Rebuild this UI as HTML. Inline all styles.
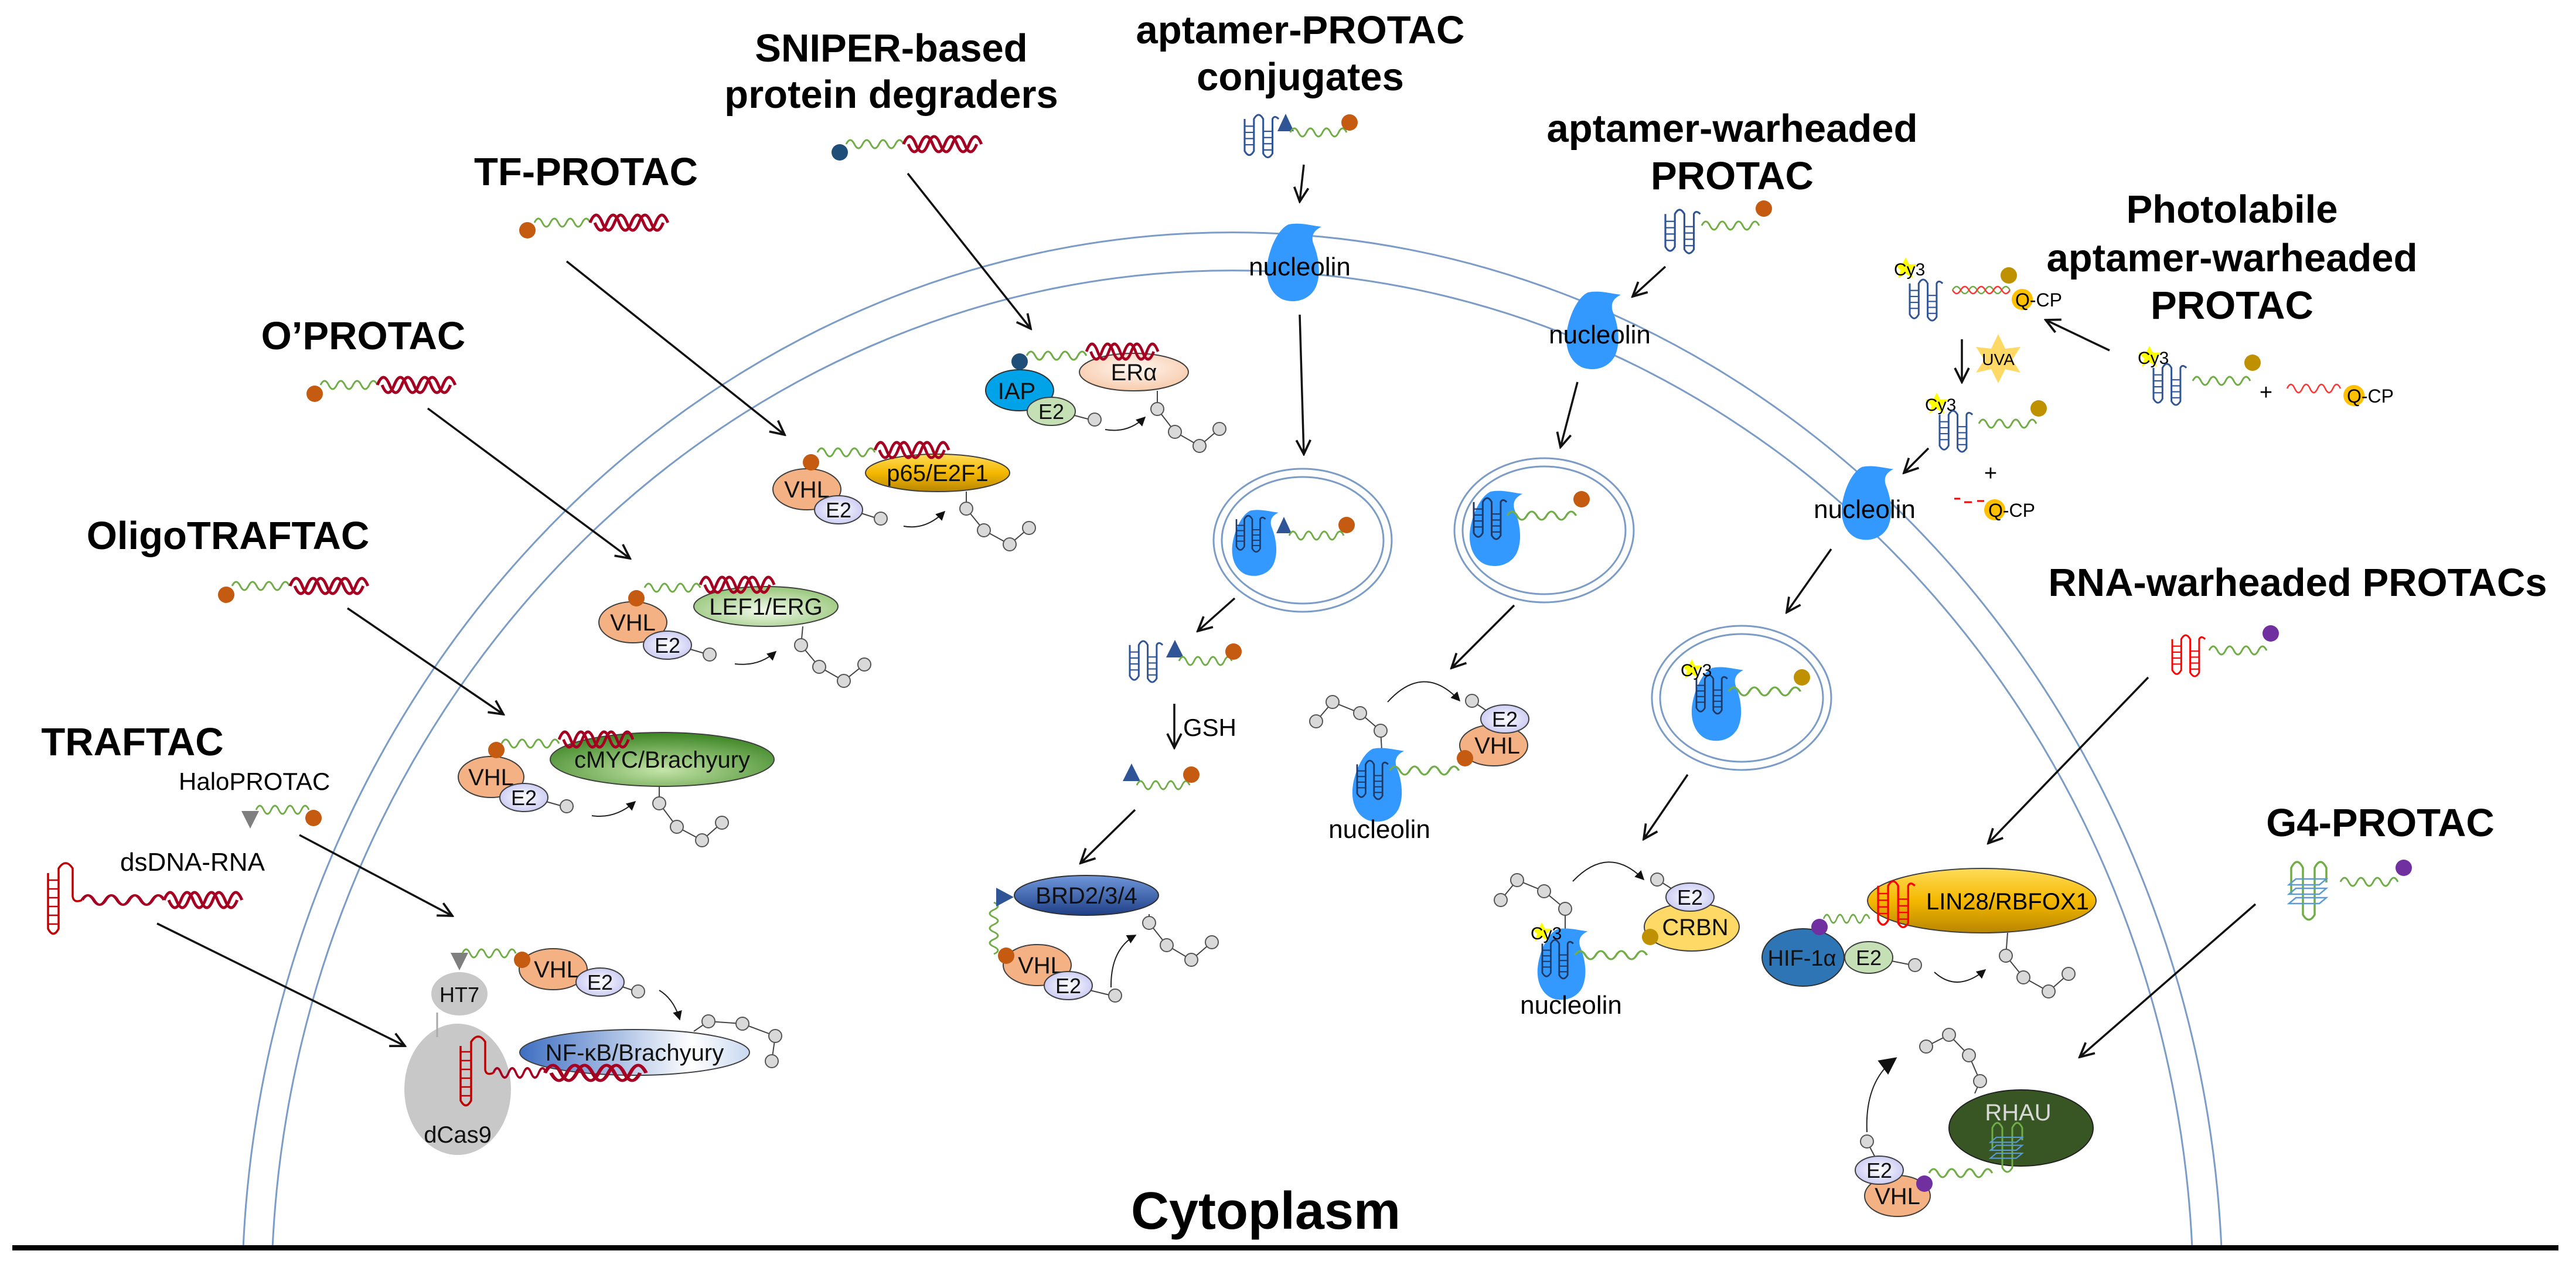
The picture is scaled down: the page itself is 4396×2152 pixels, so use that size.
<!DOCTYPE html>
<html><head><meta charset="utf-8"><style>
html,body{margin:0;padding:0;background:#fff;width:4396px;height:2152px;overflow:hidden}
svg{display:block;overflow:hidden}
text{font-family:"Liberation Sans",Arial,sans-serif}
.t{font-weight:bold;font-size:67px;text-anchor:middle;fill:#000}
.l{font-size:40px;text-anchor:middle;fill:#111}
.ub{fill:#d9d9d9;stroke:#555;stroke-width:2}
.ch{stroke:#444;stroke-width:2;fill:none}
.vhl{fill:#f4b183;stroke:#404040;stroke-width:2}
.e2{fill:url(#gE2);stroke:#404040;stroke-width:2}
.e2g{fill:#c5e0b4;stroke:#404040;stroke-width:2}
.ar{stroke:#111;stroke-width:3.5;fill:none;marker-end:url(#ar)}
.sa{stroke:#222;stroke-width:2;fill:none;marker-end:url(#sa)}
.ves{fill:none;stroke:#7a9cc6;stroke-width:3}
</style></head><body>
<svg width="4396" height="2152" viewBox="0 0 4396 2152" xmlns="http://www.w3.org/2000/svg">
<defs>
<marker id="ar" viewBox="0 0 20 20" refX="18" refY="10" markerWidth="30" markerHeight="30" markerUnits="userSpaceOnUse" orient="auto"><path d="M2,2 L18,10 L2,18" stroke="#111" stroke-width="2.5" fill="none"/></marker>
<marker id="sa" viewBox="0 0 10 10" refX="9" refY="5" markerWidth="16" markerHeight="16" markerUnits="userSpaceOnUse" orient="auto"><path d="M0,0 L10,5 L0,10 Z" fill="#111"/></marker>
<marker id="ba" viewBox="0 0 10 10" refX="9" refY="5" markerWidth="30" markerHeight="30" markerUnits="userSpaceOnUse" orient="auto"><path d="M0,0 L10,5 L0,10 Z" fill="#111"/></marker>
<linearGradient id="gGold" x1="0" y1="0" x2="0" y2="1"><stop offset="0" stop-color="#ffdc5a"/><stop offset="0.5" stop-color="#f5b800"/><stop offset="1" stop-color="#b88600"/></linearGradient>
<radialGradient id="gGreen" cx="0.5" cy="0.7" r="0.7"><stop offset="0" stop-color="#c4e4a8"/><stop offset="1" stop-color="#3a8422"/></radialGradient>
<radialGradient id="gLef" cx="0.5" cy="0.6" r="0.7"><stop offset="0" stop-color="#f4faee"/><stop offset="1" stop-color="#86bd63"/></radialGradient>
<linearGradient id="gNF" x1="0" y1="0" x2="1" y2="0"><stop offset="0" stop-color="#3e6ec2"/><stop offset="0.75" stop-color="#ffffff"/><stop offset="1" stop-color="#c8d8f0"/></linearGradient>
<linearGradient id="gBRD" x1="0" y1="0" x2="0" y2="1"><stop offset="0" stop-color="#6f97dc"/><stop offset="1" stop-color="#1f3f85"/></linearGradient>
<radialGradient id="gER" cx="0.5" cy="0.4" r="0.7"><stop offset="0" stop-color="#fff8f2"/><stop offset="1" stop-color="#f6c3a0"/></radialGradient>
<radialGradient id="gE2" cx="0.5" cy="0.5" r="0.6"><stop offset="0" stop-color="#ffffff"/><stop offset="1" stop-color="#c3c3f2"/></radialGradient>
<path id="wv" d="M0,0 q7,-14 14,0 t14,0 t14,0 t14,0 t14,0 t14,0 t14,0" fill="none" stroke="#70ad47" stroke-width="3"/>
<path id="rw" d="M0,0 q7,-16 14,0 t14,0 t14,0 t14,0 t14,0 t14,0 t14,0" fill="none" stroke="#a50021" stroke-width="4"/>
<g id="hx" fill="none" stroke="#a50021" stroke-width="5"><path d="M0,0 q10.4,-26 20.8,0 t20.8,0 t20.8,0 t20.8,0 t20.8,0 t20.8,0"/><path d="M8,0 q10.4,26 20.8,0 t20.8,0 t20.8,0 t20.8,0 t20.8,0 t20.8,0"/></g>
<g id="apt" fill="none" stroke-width="3.5"><path d="M0,8 L0,70 Q9,86 18,70 L18,8 Q27,-8 36,8 L36,75 Q45,90 54,75 L54,8 Q58,0 66,8"/><path d="M0,22H18M0,34H18M0,46H18M0,58H18M36,32H54M36,44H54M36,56H54M36,68H54" stroke-width="2.5"/></g>
<path id="nuc" d="M40,4 C60,0 78,6 96,8 C84,14 78,22 82,36 C92,60 96,90 86,112 C76,132 52,140 30,132 C8,122 0,96 4,70 C8,44 22,12 40,4 Z" fill="#3399ff"/>
<g id="g4"><path d="M0,60 L0,15 Q10,-5 20,15 L20,95 Q30,112 40,95 L40,15 Q50,-5 60,15 L60,40" fill="none" stroke="#70ad47" stroke-width="3.5"/><path d="M-4,44 L48,44 L60,34 L8,34 Z M-4,60 L48,60 L60,50 L8,50 Z M-4,76 L48,76 L60,66 L8,66 Z" fill="none" stroke="#5b9bd5" stroke-width="2.5"/></g>
<polygon id="star" points="0,-20 6,-8 19,-8 9,2 13,16 0,8 -13,16 -9,2 -19,-8 -6,-8" fill="#ffff00"/>
</defs>
<!-- membrane -->
<path d="M415,2130 A1690,1822 0 0 1 3791,2130" fill="none" stroke="#7a9cc6" stroke-width="3"/>
<path d="M465,2130 A1640,1755 0 0 1 3741,2130" fill="none" stroke="#7a9cc6" stroke-width="3"/>
<rect x="21" y="2125" width="4345" height="9" fill="#000"/>

<!-- titles -->
<text class="t" x="1521" y="105">SNIPER-based</text>
<text class="t" x="1521" y="184">protein degraders</text>
<text class="t" x="2219" y="74">aptamer-PROTAC</text>
<text class="t" x="2219" y="154">conjugates</text>
<text class="t" x="2956" y="242">aptamer-warheaded</text>
<text class="t" x="2956" y="323">PROTAC</text>
<text class="t" x="3809" y="380">Photolabile</text>
<text class="t" x="3809" y="463">aptamer-warheaded</text>
<text class="t" x="3809" y="544">PROTAC</text>
<text class="t" x="3921" y="1017">RNA-warheaded PROTACs</text>
<text class="t" x="1000" y="316">TF-PROTAC</text>
<text class="t" x="620" y="596">O’PROTAC</text>
<text class="t" x="389" y="937">OligoTRAFTAC</text>
<text class="t" x="226" y="1289">TRAFTAC</text>
<text class="t" x="4062" y="1427">G4-PROTAC</text>
<text class="t" x="2160" y="2097" style="font-size:90px">Cytoplasm</text>

<!-- free molecules left -->
<circle cx="1433" cy="260" r="14" fill="#1f4e79"/><use href="#wv" transform="translate(1444,246)"/><use href="#hx" transform="translate(1542,246)"/>
<circle cx="900" cy="393" r="14" fill="#c55a11"/><use href="#wv" transform="translate(912,380) scale(0.97,1)"/><use href="#hx" transform="translate(1007,380)"/>
<circle cx="537" cy="672" r="14" fill="#c55a11"/><use href="#wv" transform="translate(547,657) scale(0.99,1)"/><use href="#hx" transform="translate(644,657)"/>
<circle cx="386" cy="1015" r="14" fill="#c55a11"/><use href="#wv" transform="translate(396,1000)"/><use href="#hx" transform="translate(495,1000)"/>

<!-- arrows -->
<line class="ar" x1="1549" y1="296" x2="1759" y2="561"/>
<line class="ar" x1="967" y1="446" x2="1339" y2="742"/>
<line class="ar" x1="730" y1="697" x2="1075" y2="953"/>
<line class="ar" x1="593" y1="1038" x2="859" y2="1219"/>
<line class="ar" x1="511" y1="1425" x2="772" y2="1563"/>
<line class="ar" x1="268" y1="1576" x2="691" y2="1785"/>
<line class="ar" x1="2225" y1="281" x2="2218" y2="344"/>
<line class="ar" x1="2218" y1="537" x2="2225" y2="775"/>
<line class="ar" x1="2107" y1="1021" x2="2044" y2="1077"/>
<line class="ar" x1="2004" y1="1201" x2="2004" y2="1276"/>
<line class="ar" x1="1937" y1="1382" x2="1844" y2="1473"/>
<line class="ar" x1="2842" y1="455" x2="2786" y2="506"/>
<line class="ar" x1="2692" y1="652" x2="2663" y2="763"/>
<line class="ar" x1="2584" y1="1033" x2="2477" y2="1140"/>
<line class="ar" x1="3600" y1="598" x2="3491" y2="546"/>
<line class="ar" x1="3348" y1="579" x2="3348" y2="652"/>
<line class="ar" x1="3291" y1="765" x2="3249" y2="807"/>
<line class="ar" x1="3125" y1="937" x2="3049" y2="1045"/>
<line class="ar" x1="2880" y1="1322" x2="2805" y2="1432"/>
<line class="ar" x1="3666" y1="1156" x2="3393" y2="1439"/>
<line class="ar" x1="3849" y1="1543" x2="3549" y2="1804"/>

<!-- IAP complex -->
<use href="#wv" transform="translate(1752,607) scale(1.04,1)"/>
<ellipse cx="1935" cy="635" rx="93" ry="32" fill="url(#gER)" stroke="#404040" stroke-width="2"/>
<text class="l" x="1935" y="649">ERα</text>
<use href="#hx" transform="translate(1854,600) scale(0.92,1)"/>
<ellipse cx="1740" cy="666" rx="58" ry="35" fill="#00a2e8" stroke="#303030" stroke-width="2"/>
<text class="l" x="1735" y="681">IAP</text>
<circle cx="1740" cy="617" r="14" fill="#1f4e79"/>
<line class="ch" x1="1830" y1="708" x2="1860" y2="716"/>
<ellipse class="e2g" cx="1794" cy="702" rx="41" ry="24"/><text class="l" x="1794" y="715" style="font-size:36px">E2</text>
<circle class="ub" cx="1868" cy="716" r="11"/>
<path class="sa" d="M1886,733 Q1925,740 1954,712"/>
<path class="ch" d="M1975,667 L1975,698 L2005,737 L2047,761 L2081,732"/>
<circle class="ub" cx="1975" cy="698" r="11"/><circle class="ub" cx="2005" cy="737" r="11"/><circle class="ub" cx="2047" cy="761" r="11"/><circle class="ub" cx="2081" cy="732" r="11"/>

<!-- TF complex -->
<use href="#wv" transform="translate(1395,772)"/>
<ellipse cx="1600" cy="807" rx="123" ry="32" fill="url(#gGold)" stroke="#404040" stroke-width="2"/>
<text class="l" x="1600" y="821">p65/E2F1</text>
<use href="#hx" transform="translate(1493,768) scale(0.95,1)"/>
<ellipse class="vhl" cx="1377" cy="835" rx="58" ry="35"/><text class="l" x="1377" y="849">VHL</text>
<circle cx="1384" cy="789" r="14" fill="#c55a11"/>
<line class="ch" x1="1470" y1="876" x2="1495" y2="884"/>
<ellipse class="e2" cx="1431" cy="870" rx="41" ry="24"/><text class="l" x="1431" y="883" style="font-size:36px">E2</text>
<circle class="ub" cx="1503" cy="885" r="11"/>
<path class="sa" d="M1542,898 Q1580,905 1612,873"/>
<path class="ch" d="M1649,839 L1649,868 L1679,905 L1723,929 L1756,901"/>
<circle class="ub" cx="1649" cy="868" r="11"/><circle class="ub" cx="1679" cy="905" r="11"/><circle class="ub" cx="1723" cy="929" r="11"/><circle class="ub" cx="1756" cy="901" r="11"/>

<!-- LEF1 complex -->
<use href="#wv" transform="translate(1100,1003) scale(0.97,1)"/>
<ellipse cx="1307" cy="1035" rx="123" ry="34" fill="url(#gLef)" stroke="#404040" stroke-width="2"/>
<text class="l" x="1307" y="1049">LEF1/ERG</text>
<use href="#hx" transform="translate(1195,998) scale(0.95,1)"/>
<ellipse class="vhl" cx="1080" cy="1062" rx="58" ry="35"/><text class="l" x="1080" y="1076">VHL</text>
<circle cx="1086" cy="1021" r="14" fill="#c55a11"/>
<line class="ch" x1="1178" y1="1108" x2="1202" y2="1115"/>
<ellipse class="e2" cx="1139" cy="1101" rx="41" ry="24"/><text class="l" x="1139" y="1114" style="font-size:36px">E2</text>
<circle class="ub" cx="1211" cy="1117" r="11"/>
<path class="sa" d="M1254,1133 Q1295,1138 1324,1112"/>
<path class="ch" d="M1370,1069 L1367,1101 L1398,1138 L1440,1162 L1475,1134"/>
<circle class="ub" cx="1367" cy="1101" r="11"/><circle class="ub" cx="1398" cy="1138" r="11"/><circle class="ub" cx="1440" cy="1162" r="11"/><circle class="ub" cx="1475" cy="1134" r="11"/>

<!-- cMYC complex -->
<use href="#wv" transform="translate(856,1269)"/>
<ellipse cx="1130" cy="1296" rx="191" ry="46" fill="url(#gGreen)" stroke="#404040" stroke-width="2"/>
<text class="l" x="1130" y="1310">cMYC/Brachyury</text>
<use href="#hx" transform="translate(954,1262) scale(0.95,1)"/>
<ellipse class="vhl" cx="838" cy="1326" rx="56" ry="35"/><text class="l" x="838" y="1340">VHL</text>
<circle cx="847" cy="1280" r="14" fill="#c55a11"/>
<line class="ch" x1="932" y1="1368" x2="957" y2="1375"/>
<ellipse class="e2" cx="894" cy="1361" rx="41" ry="24"/><text class="l" x="894" y="1374" style="font-size:36px">E2</text>
<circle class="ub" cx="967" cy="1376" r="11"/>
<path class="sa" d="M1010,1392 Q1050,1398 1084,1368"/>
<path class="ch" d="M1125,1342 L1125,1371 L1155,1411 L1198,1434 L1232,1404"/>
<circle class="ub" cx="1125" cy="1371" r="11"/><circle class="ub" cx="1155" cy="1411" r="11"/><circle class="ub" cx="1198" cy="1434" r="11"/><circle class="ub" cx="1232" cy="1404" r="11"/>

<!-- TRAFTAC -->
<text x="305" y="1348" style="font-size:42px">HaloPROTAC</text>
<polygon points="412,1384 442,1384 427,1414" fill="#7f7f7f"/>
<use href="#wv" transform="translate(437,1382) scale(0.92,1)"/>
<circle cx="535" cy="1396" r="14" fill="#c55a11"/>
<text x="205" y="1486" style="font-size:44px">dsDNA-RNA</text>
<g fill="none" stroke="#c00000" stroke-width="3.5">
<path d="M82,1490 L82,1585 Q91,1602 100,1585 L100,1482 Q112,1464 124,1482 L124,1530 Q126,1542 140,1536"/>
<path d="M82,1502H100M82,1517H100M82,1532H100M82,1547H100M82,1562H100M82,1577H100" stroke-width="2.5"/>
</g>
<use href="#rw" transform="translate(140,1536) scale(1.43,1)"/>
<use href="#hx" transform="translate(280,1536)"/>

<ellipse cx="781" cy="1859" rx="91" ry="112" fill="#c8c8c8"/>
<line x1="746" y1="1728" x2="746" y2="1770" stroke="#aaa" stroke-width="3"/>
<ellipse cx="784" cy="1696" rx="48" ry="37" fill="#c8c8c8"/>
<text class="l" x="784" y="1710" style="font-size:36px">HT7</text>
<polygon points="769,1626 799,1626 784,1656" fill="#7f7f7f"/>
<text class="l" x="781" y="1950">dCas9</text>
<use href="#wv" transform="translate(789,1627) scale(0.93,1)"/>
<ellipse cx="1083" cy="1796" rx="196" ry="39" fill="url(#gNF)" stroke="#404040" stroke-width="2"/>
<text class="l" x="1083" y="1810">NF-κB/Brachyury</text>
<g fill="none" stroke="#c00000" stroke-width="3.5">
<path d="M786,1785 L786,1878 Q795,1895 804,1878 L804,1778 Q816,1760 828,1778 L828,1826 Q830,1836 842,1831"/>
<path d="M786,1795H804M786,1810H804M786,1825H804M786,1840H804M786,1855H804M786,1870H804" stroke-width="2.5"/>
</g>
<use href="#rw" transform="translate(842,1831) scale(0.92,1)"/>
<use href="#hx" transform="translate(930,1831) scale(1.3,1)"/>
<ellipse class="vhl" cx="944" cy="1654" rx="58" ry="35"/><text class="l" x="950" y="1668">VHL</text>
<circle cx="891" cy="1638" r="14" fill="#c55a11"/>
<line class="ch" x1="1062" y1="1684" x2="1080" y2="1690"/>
<ellipse class="e2" cx="1024" cy="1676" rx="41" ry="24"/><text class="l" x="1024" y="1689" style="font-size:36px">E2</text>
<circle class="ub" cx="1089" cy="1692" r="11"/>
<path class="sa" d="M1125,1690 Q1150,1705 1160,1740"/>
<path class="ch" d="M1184,1760 L1209,1743 L1267,1747 L1323,1768 L1317,1811"/>
<circle class="ub" cx="1209" cy="1743" r="11"/><circle class="ub" cx="1267" cy="1747" r="11"/><circle class="ub" cx="1323" cy="1768" r="11"/><circle class="ub" cx="1317" cy="1811" r="11"/>

<!-- aptamer-PROTAC column -->
<use href="#apt" stroke="#2f5597" transform="translate(2124,196) scale(0.88)"/>
<polygon points="2180,224 2208,224 2194,194" fill="#2f5597"/>
<use href="#wv" transform="translate(2202,226) scale(0.98,1)"/>
<circle cx="2303" cy="209" r="14" fill="#c55a11"/>
<use href="#nuc" transform="translate(2159,379)"/>
<text x="2218" y="470" style="font-size:44px;text-anchor:middle">nucleolin</text>
<ellipse class="ves" cx="2223" cy="922" rx="152" ry="122"/><ellipse class="ves" cx="2223" cy="922" rx="138" ry="108"/>
<use href="#nuc" transform="translate(2100,868) scale(0.85)"/>
<use href="#apt" stroke="#1f3864" transform="translate(2110,880) scale(0.75)"/>
<polygon points="2178,910 2204,910 2191,882" fill="#2f5597"/>
<use href="#wv" transform="translate(2200,914) scale(0.95,1)"/>
<circle cx="2298" cy="896" r="14" fill="#c55a11"/>
<use href="#apt" stroke="#2f5597" transform="translate(1928,1094) scale(0.85)"/>
<polygon points="1990,1122 2020,1122 2005,1092" fill="#2f5597"/>
<use href="#wv" transform="translate(2012,1128) scale(0.92,1)"/>
<circle cx="2105" cy="1112" r="14" fill="#c55a11"/>
<text x="2019" y="1256" style="font-size:42px">GSH</text>
<polygon points="1916,1333 1946,1333 1931,1303" fill="#2f5597"/>
<use href="#wv" transform="translate(1940,1340) scale(0.92,1)"/>
<circle cx="2033" cy="1322" r="14" fill="#c55a11"/>

<!-- BRD complex -->
<use href="#wv" transform="translate(1696,1540) rotate(90) scale(0.9,1)"/>
<ellipse cx="1854" cy="1528" rx="123" ry="34" fill="url(#gBRD)" stroke="#303030" stroke-width="2"/>
<text class="l" x="1854" y="1542">BRD2/3/4</text>
<polygon points="1700,1515 1700,1547 1730,1531" fill="#2f5597"/>
<ellipse class="vhl" cx="1770" cy="1647" rx="58" ry="35"/><text class="l" x="1776" y="1661">VHL</text>
<circle cx="1717" cy="1631" r="14" fill="#c55a11"/>
<line class="ch" x1="1860" y1="1690" x2="1893" y2="1698"/>
<ellipse class="e2" cx="1823" cy="1682" rx="41" ry="24"/><text class="l" x="1823" y="1695" style="font-size:36px">E2</text>
<circle class="ub" cx="1903" cy="1699" r="11"/>
<path class="sa" d="M1896,1685 Q1895,1620 1938,1596"/>
<path class="ch" d="M1961,1560 L1961,1575 L1991,1613 L2033,1638 L2068,1608"/>
<circle class="ub" cx="1961" cy="1575" r="11"/><circle class="ub" cx="1991" cy="1613" r="11"/><circle class="ub" cx="2033" cy="1638" r="11"/><circle class="ub" cx="2068" cy="1608" r="11"/>

<!-- aptamer-warheaded column -->
<use href="#apt" stroke="#2f5597" transform="translate(2842,358) scale(0.9)"/>
<use href="#wv" transform="translate(2904,385) scale(1,1)"/>
<circle cx="3010" cy="356" r="14" fill="#c55a11"/>
<use href="#nuc" transform="translate(2670,495)"/>
<text x="2730" y="586" style="font-size:44px;text-anchor:middle">nucleolin</text>
<ellipse class="ves" cx="2635" cy="905" rx="153" ry="123"/><ellipse class="ves" cx="2635" cy="905" rx="139" ry="109"/>
<use href="#nuc" transform="translate(2505,835) scale(0.97)"/>
<use href="#apt" stroke="#1f3864" transform="translate(2515,850) scale(0.85)"/>
<use href="#wv" transform="translate(2572,880) scale(1.2,1)"/>
<circle cx="2699" cy="852" r="14" fill="#c55a11"/>
<!-- complex 2 -->
<path class="ch" d="M2358,1280 L2356,1247 L2321,1217 L2274,1198 L2246,1231"/>
<circle class="ub" cx="2356" cy="1247" r="11"/><circle class="ub" cx="2321" cy="1217" r="11"/><circle class="ub" cx="2274" cy="1198" r="11"/><circle class="ub" cx="2246" cy="1231" r="11"/>
<use href="#nuc" transform="translate(2305,1274) scale(0.95)"/>
<use href="#apt" stroke="#1f3864" transform="translate(2316,1298) scale(0.8)"/>
<use href="#wv" transform="translate(2372,1315) scale(1.2,1)"/>
<text x="2354" y="1430" style="font-size:44px;text-anchor:middle">nucleolin</text>
<path class="sa" d="M2368,1198 Q2430,1130 2491,1196"/>
<line class="ch" x1="2512" y1="1196" x2="2540" y2="1215"/>
<circle class="ub" cx="2512" cy="1196" r="11"/>
<ellipse class="vhl" cx="2549" cy="1272" rx="58" ry="35"/><text class="l" x="2555" y="1286">VHL</text>
<ellipse class="e2" cx="2568" cy="1227" rx="41" ry="24"/><text class="l" x="2568" y="1240" style="font-size:36px">E2</text>
<circle cx="2500" cy="1294" r="14" fill="#c55a11"/>

<!-- photolabile -->
<use href="#star" transform="translate(3252,459)"/>
<text x="3232" y="470" style="font-size:30px">Cy3</text>
<use href="#apt" stroke="#2f5597" transform="translate(3259,477) scale(0.85)"/>
<path d="M3332,495 q7,-12 14,0 t14,0 t14,0 t14,0 t14,0 t14,0 t14,0" fill="none" stroke="#70ad47" stroke-width="2.5"/>
<path d="M3332,495 q7,12 14,0 t14,0 t14,0 t14,0 t14,0 t14,0 t14,0" fill="none" stroke="#ff3333" stroke-width="2.5"/>
<circle cx="3428" cy="470" r="14" fill="#bf9000"/>
<circle cx="3451" cy="511" r="18" fill="#ffc000"/>
<text x="3439" y="523" style="font-size:32px">Q-CP</text>
<polygon points="3410,570 3422,595 3448,592 3434,614 3448,636 3422,630 3410,654 3398,630 3372,636 3386,614 3372,592 3398,595" fill="#ffd966"/>
<text x="3410" y="623" style="font-size:28px;text-anchor:middle">UVA</text>
<use href="#star" transform="translate(3668,610)"/>
<text x="3648" y="621" style="font-size:30px">Cy3</text>
<use href="#apt" stroke="#2f5597" transform="translate(3675,621) scale(0.85)"/>
<use href="#wv" transform="translate(3742,650)"/>
<circle cx="3844" cy="619" r="14" fill="#bf9000"/>
<text x="3867" y="682" style="font-size:38px;text-anchor:middle">+</text>
<path d="M3903,663 q6.5,-14 13,0 t13,0 t13,0 t13,0 t13,0 t13,0 t13,0" fill="none" stroke="#ff3333" stroke-width="2.5"/>
<circle cx="4017" cy="675" r="18" fill="#ffc000"/>
<text x="4005" y="687" style="font-size:32px">Q-CP</text>
<use href="#star" transform="translate(3305,690)"/>
<text x="3285" y="701" style="font-size:30px">Cy3</text>
<use href="#apt" stroke="#2f5597" transform="translate(3310,701) scale(0.85)"/>
<use href="#wv" transform="translate(3377,723)"/>
<circle cx="3479" cy="697" r="14" fill="#bf9000"/>
<text x="3397" y="820" style="font-size:38px;text-anchor:middle">+</text>
<path d="M3335,851h10M3352,857h13M3374,855h12" stroke="#ff0000" stroke-width="3"/>
<circle cx="3404" cy="870" r="18" fill="#ffc000"/>
<text x="3393" y="882" style="font-size:32px">Q-CP</text>
<use href="#nuc" transform="translate(3140,793) scale(0.95)"/>
<text x="3182" y="884" style="font-size:44px;text-anchor:middle">nucleolin</text>
<ellipse class="ves" cx="2972" cy="1191" rx="153" ry="123"/><ellipse class="ves" cx="2972" cy="1191" rx="139" ry="109"/>
<use href="#nuc" transform="translate(2884,1136) scale(0.95)"/>
<use href="#apt" stroke="#1f3864" transform="translate(2895,1152) scale(0.8)"/>
<use href="#star" transform="translate(2887,1143) scale(0.9)"/>
<text x="2868" y="1154" style="font-size:30px">Cy3</text>
<use href="#wv" transform="translate(2950,1180) scale(1.25,1)"/>
<circle cx="3075" cy="1156" r="14" fill="#bf9000"/>
<!-- CRBN complex -->
<path class="ch" d="M2671,1588 L2671,1551 L2635,1521 L2589,1502 L2561,1536"/>
<circle class="ub" cx="2671" cy="1551" r="11"/><circle class="ub" cx="2635" cy="1521" r="11"/><circle class="ub" cx="2589" cy="1502" r="11"/><circle class="ub" cx="2561" cy="1536" r="11"/>
<use href="#nuc" transform="translate(2621,1582) scale(0.92)"/>
<use href="#apt" stroke="#1f3864" transform="translate(2632,1604) scale(0.8)"/>
<use href="#star" transform="translate(2631,1592) scale(0.9)"/>
<text x="2612" y="1603" style="font-size:30px">Cy3</text>
<use href="#wv" transform="translate(2688,1630) scale(1.25,1)"/>
<text x="2681" y="1730" style="font-size:44px;text-anchor:middle">nucleolin</text>
<path class="sa" d="M2684,1504 Q2745,1440 2805,1501"/>
<line class="ch" x1="2828" y1="1501" x2="2855" y2="1518"/>
<circle class="ub" cx="2828" cy="1501" r="11"/>
<ellipse cx="2887" cy="1582" rx="81" ry="41" fill="#ffd966" stroke="#404040" stroke-width="2"/>
<text class="l" x="2893" y="1596">CRBN</text>
<ellipse class="e2" cx="2884" cy="1531" rx="41" ry="24"/><text class="l" x="2884" y="1544" style="font-size:36px">E2</text>
<circle cx="2816" cy="1599" r="14" fill="#bf9000"/>

<!-- RNA-warheaded -->
<use href="#apt" stroke="#ff0000" transform="translate(3707,1084) scale(0.85)"/>
<use href="#wv" transform="translate(3770,1110) scale(1,1)"/>
<circle cx="3875" cy="1081" r="14" fill="#7030a0"/>
<use href="#wv" transform="translate(3112,1568) scale(0.8,1)"/>
<ellipse cx="3382" cy="1537" rx="195" ry="55" fill="url(#gGold)" stroke="#404040" stroke-width="2"/>
<use href="#apt" stroke="#ff0000" transform="translate(3205,1504) scale(0.95)"/>
<text x="3287" y="1552" style="font-size:40px">LIN28/RBFOX1</text>
<ellipse cx="3077" cy="1634" rx="70" ry="49" fill="#2e75b6" stroke="#303030" stroke-width="2"/>
<text class="l" x="3075" y="1648" style="font-size:38px">HIF-1α</text>
<circle cx="3105" cy="1582" r="14" fill="#7030a0"/>
<line class="ch" x1="3228" y1="1640" x2="3258" y2="1646"/>
<ellipse class="e2g" cx="3189" cy="1634" rx="41" ry="27"/><text class="l" x="3189" y="1647" style="font-size:36px">E2</text>
<circle class="ub" cx="3268" cy="1647" r="11"/>
<path class="sa" d="M3301,1659 Q3340,1695 3388,1655"/>
<path class="ch" d="M3426,1592 L3423,1631 L3453,1668 L3496,1692 L3530,1662"/>
<circle class="ub" cx="3423" cy="1631" r="11"/><circle class="ub" cx="3453" cy="1668" r="11"/><circle class="ub" cx="3496" cy="1692" r="11"/><circle class="ub" cx="3530" cy="1662" r="11"/>

<!-- G4 -->
<use href="#g4" transform="translate(3910,1466)"/>
<use href="#wv" transform="translate(3994,1505)"/>
<circle cx="4102" cy="1481" r="14" fill="#7030a0"/>
<path class="ch" d="M3370,1866 L3379,1845 L3360,1801 L3326,1766 L3287,1786"/>
<circle class="ub" cx="3379" cy="1845" r="11"/><circle class="ub" cx="3360" cy="1801" r="11"/><circle class="ub" cx="3326" cy="1766" r="11"/><circle class="ub" cx="3287" cy="1786" r="11"/>
<ellipse cx="3449" cy="1925" rx="123" ry="65" fill="#375623" stroke="#222" stroke-width="2"/>
<text x="3444" y="1912" style="font-size:40px;text-anchor:middle;fill:#d9d9d9">RHAU</text>
<use href="#g4" transform="translate(3400,1912) scale(0.85)"/>
<use href="#wv" transform="translate(3292,2002) scale(1.1,1)"/>
<path d="M3186,1932 Q3182,1845 3235,1806" stroke="#222" stroke-width="2" fill="none" marker-end="url(#ba)"/>
<line class="ch" x1="3186" y1="1948" x2="3200" y2="1975"/>
<circle class="ub" cx="3186" cy="1948" r="11"/>
<ellipse class="vhl" cx="3238" cy="2041" rx="56" ry="35"/><text class="l" x="3238" y="2055">VHL</text>
<ellipse class="e2" cx="3207" cy="1997" rx="41" ry="24"/><text class="l" x="3207" y="2010" style="font-size:36px">E2</text>
<circle cx="3284" cy="2020" r="14" fill="#7030a0"/>
</svg>
</body></html>
